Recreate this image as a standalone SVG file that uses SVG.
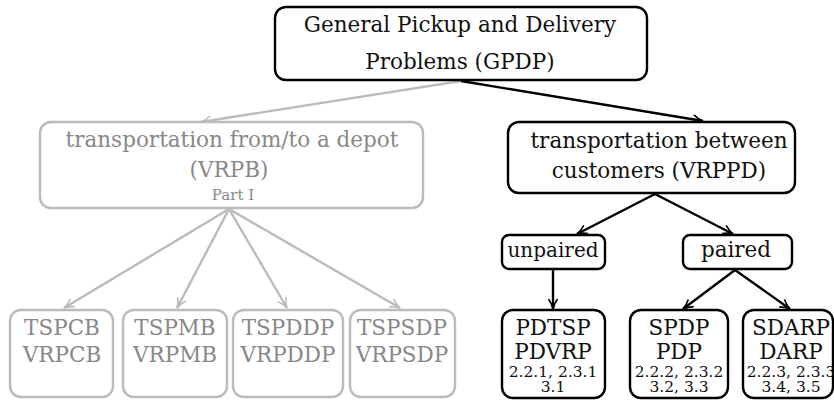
<svg xmlns="http://www.w3.org/2000/svg" width="834" height="400" viewBox="0 0 834 400">
<defs>
<marker id="ab" viewBox="0 0 12 12" refX="11" refY="6" markerWidth="12" markerHeight="12" markerUnits="userSpaceOnUse" orient="auto">
<path d="M1,1.5 Q6,5 11,6 Q6,7 1,10.5" fill="none" stroke="#000" stroke-width="1.6"/>
</marker>
<marker id="ag" viewBox="0 0 12 12" refX="11" refY="6" markerWidth="12" markerHeight="12" markerUnits="userSpaceOnUse" orient="auto">
<path d="M1,1.5 Q6,5 11,6 Q6,7 1,10.5" fill="none" stroke="#bbb" stroke-width="1.6"/>
</marker>
</defs>
<style>
text{font-family:"DejaVu Serif","Liberation Serif",serif;text-anchor:middle}
.b rect{fill:#fff;stroke:#000;stroke-width:2.4}
.g rect{fill:#fff;stroke:#bbb;stroke-width:2.4}
.b text{fill:#111}
.g text{fill:#888}
.L{font-size:21.5px}
.U{font-size:20px}
.S{font-size:15.5px}
.P{font-size:15px}
.cb{fill:none;stroke:#000;stroke-width:2.4;marker-end:url(#ab)}
.cg{fill:none;stroke:#bbb;stroke-width:2.4;marker-end:url(#ag)}
</style>
<g id="connectors">
<line class="cg" x1="461" y1="81" x2="201" y2="122"/>
<line class="cb" x1="461" y1="81" x2="703" y2="121"/>
<line class="cg" x1="229" y1="209" x2="64" y2="308"/>
<line class="cg" x1="229" y1="209" x2="177" y2="308"/>
<line class="cg" x1="229" y1="209" x2="287" y2="308"/>
<line class="cg" x1="229" y1="209" x2="400" y2="308"/>
<line class="cb" x1="655" y1="194" x2="577" y2="234"/>
<line class="cb" x1="655" y1="194" x2="733" y2="234"/>
<line class="cb" x1="553" y1="270" x2="553" y2="309"/>
<line class="cb" x1="735" y1="270" x2="683" y2="309"/>
<line class="cb" x1="735" y1="270" x2="790" y2="309"/>
</g>
<g id="gpdp" class="b">
<rect x="275" y="7" width="372" height="73" rx="11"/>
<text class="L" x="460" y="32">General Pickup and Delivery</text>
<text class="L" x="460" y="69">Problems (GPDP)</text>
</g>
<g id="vrpb" class="g">
<rect x="40" y="122" width="383" height="86" rx="11"/>
<text class="L" x="232" y="147">transportation from/to a depot</text>
<text class="L" x="229" y="177">(VRPB)</text>
<text class="P" x="233" y="200">Part I</text>
</g>
<g id="vrppd" class="b">
<rect x="508" y="122" width="287" height="71" rx="11"/>
<text class="L" x="659" y="148">transportation between</text>
<text class="L" x="659" y="178">customers (VRPPD)</text>
</g>
<g id="unpaired" class="b">
<rect x="502" y="235" width="103" height="34" rx="7"/>
<text class="U" x="553" y="257">unpaired</text>
</g>
<g id="paired" class="b">
<rect x="683" y="235" width="109" height="34" rx="7"/>
<text class="L" x="736" y="257">paired</text>
</g>
<g id="tspcb" class="g">
<rect x="10" y="310" width="103" height="87" rx="11"/>
<text class="L" x="62" y="335">TSPCB</text>
<text class="L" x="62" y="362">VRPCB</text>
</g>
<g id="tspmb" class="g">
<rect x="123" y="310" width="104" height="87" rx="11"/>
<text class="L" x="175" y="335">TSPMB</text>
<text class="L" x="175" y="362">VRPMB</text>
</g>
<g id="tspddp" class="g">
<rect x="233" y="310" width="110" height="87" rx="11"/>
<text class="L" x="288" y="335">TSPDDP</text>
<text class="L" x="288" y="362">VRPDDP</text>
</g>
<g id="tspsdp" class="g">
<rect x="350" y="310" width="105" height="87" rx="11"/>
<text class="L" x="402" y="335">TSPSDP</text>
<text class="L" x="402" y="362">VRPSDP</text>
</g>
<g id="pdtsp" class="b">
<rect x="502" y="310" width="103" height="88" rx="11"/>
<text class="L" x="553" y="335">PDTSP</text>
<text class="L" x="553" y="359">PDVRP</text>
<text class="S" x="553" y="377">2.2.1, 2.3.1</text>
<text class="S" x="553" y="392">3.1</text>
</g>
<g id="spdp" class="b">
<rect x="630" y="310" width="98" height="88" rx="11"/>
<text class="L" x="679" y="335">SPDP</text>
<text class="L" x="679" y="359">PDP</text>
<text class="S" x="679" y="377">2.2.2, 2.3.2</text>
<text class="S" x="679" y="392">3.2, 3.3</text>
</g>
<g id="sdarp" class="b">
<rect x="743" y="310" width="90" height="88" rx="11"/>
<text class="L" x="791" y="335">SDARP</text>
<text class="L" x="791" y="359">DARP</text>
<text class="S" x="791" y="377">2.2.3, 2.3.3</text>
<text class="S" x="791" y="392">3.4, 3.5</text>
</g>
</svg>
